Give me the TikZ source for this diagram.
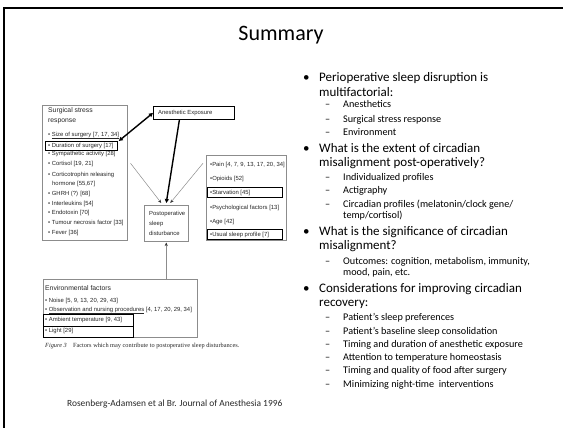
\documentclass[tikz,border=0pt]{standalone}
\usepackage{fontspec}
\setmainfont{Carlito}
\newfontfamily\figfont{Liberation Sans}
\newfontfamily\capfont{Liberation Serif}
\usetikzlibrary{arrows.meta}
\tikzset{
  lone/.style={anchor=base west, inner sep=0pt, font=\fontsize{13}{15}\selectfont},
  ltwo/.style={anchor=base west, inner sep=0pt, font=\fontsize{10.2}{12}\selectfont},
  figtxt/.style={anchor=base west, inner sep=0pt, text=black!85, font=\figfont\fontsize{5.9}{7}\selectfont},
  fighead/.style={anchor=base west, inner sep=0pt, text=black!85, font=\figfont\fontsize{6.8}{8}\selectfont},
  gbox/.style={draw=black!45, line width=0.5pt, anchor=north west, inner sep=0pt},
  hbox/.style={draw=black, line width=0.8pt, anchor=north west, inner sep=0pt},
  thinarr/.style={draw=black!45, line width=0.5pt, -{Stealth[length=3.5pt,width=3pt,color=black!80]}},
  thickarr/.style={draw=black, line width=1.4pt, -{Triangle[length=4pt,width=4pt]}},
}
\begin{document}
\begin{tikzpicture}[x=1pt,y=-1pt]
\useasboundingbox (0,0) rectangle (563,428);
% slide frame
\draw[line width=2pt] (4,428) -- (4,8) -- (563,8);
% title
\node (title) at (281,35) {\fontsize{22}{26}\selectfont Summary};

% ---------- right column ----------
\node[lone] (b1) at (303,82) {\textbullet};
\node[lone] (t1a) at (319,82) {Perioperative sleep disruption is};
\node[lone] (t1b) at (319,96) {multifactorial:};
\node[ltwo] (d1a) at (325,108) {–}; \node[ltwo] (s1a) at (343,108) {Anesthetics};
\node[ltwo] (d1b) at (325,122) {–}; \node[ltwo] (s1b) at (343,122) {Surgical stress response};
\node[ltwo] (d1c) at (325,135.5) {–}; \node[ltwo] (s1c) at (343,135.5) {Environment};

\node[lone] (b2) at (303,153) {\textbullet};
\node[lone] (t2a) at (319,153) {What is the extent of circadian};
\node[lone] (t2b) at (319,167) {misalignment post-operatively?};
\node[ltwo] (d2a) at (325,180) {–}; \node[ltwo] (s2a) at (343,180) {Individualized profiles};
\node[ltwo] (d2b) at (325,193.5) {–}; \node[ltwo] (s2b) at (343,193.5) {Actigraphy};
\node[ltwo] (d2c) at (325,207) {–}; \node[ltwo] (s2c) at (343,207) {Circadian profiles (melatonin/clock gene/};
\node[ltwo] (s2d) at (343,218.5) {temp/cortisol)};

\node[lone] (b3) at (303,235) {\textbullet};
\node[lone] (t3a) at (319,235) {What is the significance of circadian};
\node[lone] (t3b) at (319,249) {misalignment?};
\node[ltwo] (d3a) at (325,264.5) {–}; \node[ltwo] (s3a) at (343,264.5) {Outcomes: cognition, metabolism, immunity,};
\node[ltwo] (s3b) at (343,275.5) {mood, pain, etc.};

\node[lone] (b4) at (303,292) {\textbullet};
\node[lone] (t4a) at (319,292) {Considerations for improving circadian};
\node[lone] (t4b) at (319,306) {recovery:};
\node[ltwo] (d4a) at (325,320) {–}; \node[ltwo] (s4a) at (343,320) {Patient’s sleep preferences};
\node[ltwo] (d4b) at (325,334) {–}; \node[ltwo] (s4b) at (343,334) {Patient’s baseline sleep consolidation};
\node[ltwo] (d4c) at (325,347) {–}; \node[ltwo] (s4c) at (343,347) {Timing and duration of anesthetic exposure};
\node[ltwo] (d4d) at (325,360) {–}; \node[ltwo] (s4d) at (343,360) {Attention to temperature homeostasis};
\node[ltwo] (d4e) at (325,373.5) {–}; \node[ltwo] (s4e) at (343,373.5) {Timing and quality of food after surgery};
\node[ltwo] (d4f) at (325,387.5) {–}; \node[ltwo] (s4f) at (343,387.5) {Minimizing night-time\ \ interventions};

% citation
\node[anchor=base west, inner sep=0pt, font=\fontsize{9.4}{11}\selectfont, text=black!85] (cite) at (67,406) {Rosenberg-Adamsen et al Br. Journal of Anesthesia 1996};

% ---------- figure ----------
% surgical stress box
\node[gbox, minimum width=85pt, minimum height=135pt] (ssr) at (42,105) {};
\node[fighead] (sh1) at (48,112.5) {Surgical stress};
\node[fighead] (sh2) at (48,122.5) {response};
\node[figtxt] (f1) at (48,136) {\textbullet\ \underline{Size of surgery [7, 17, 34]}};
\node[hbox, minimum width=72pt, minimum height=9pt] (dur) at (45,141) {};
\node[figtxt] (f2) at (48,147) {\textbullet\ Duration of surgery [17]};
\node[figtxt] (f3) at (48,155.5) {\textbullet\ Sympathetic activity [28]};
\node[figtxt] (f4) at (48,165) {\textbullet\ Cortisol [19, 21]};
\node[figtxt] (f5) at (48,176) {\textbullet\ Corticotrophin releasing};
\node[figtxt] (f5b) at (52,185) {hormone [55,67]};
\node[figtxt] (f6) at (48,195) {\textbullet\ GHRH (?) [68]};
\node[figtxt] (f7) at (48,205) {\textbullet\ Interleukins [54]};
\node[figtxt] (f8) at (48,214) {\textbullet\ Endotoxin [70]};
\node[figtxt] (f9) at (48,224) {\textbullet\ Tumour necrosis factor [33]};
\node[figtxt] (f10) at (48,234) {\textbullet\ Fever [36]};

% anesthetic exposure box
\node[hbox, minimum width=81pt, minimum height=13pt] (ae) at (153,106) {};
\node[figtxt] (aet) at (158,114.5) {Anesthetic Exposure};

% postoperative box
\node[gbox, minimum width=44pt, minimum height=36pt] (po) at (144,205) {};
\node[figtxt] (po1) at (149,215) {Postoperative};
\node[figtxt] (po2) at (149,225) {sleep};
\node[figtxt] (po3) at (149,235) {disturbance};

% right factors box
\node[gbox, minimum width=80pt, minimum height=85pt] (rb) at (206,155) {};
\node[figtxt] (r1) at (210,166) {\textbullet Pain [4, 7, 9, 13, 17, 20, 34]};
\node[figtxt] (r2) at (210,180) {\textbullet Opioids [52]};
\node[hbox, minimum width=75pt, minimum height=10pt] (stv) at (207,187) {};
\node[figtxt] (r3) at (210,194) {\textbullet Starvation [45]};
\node[figtxt] (r4) at (210,209) {\textbullet Psychological factors [13]};
\node[figtxt] (r5) at (210,223) {\textbullet Age [42]};
\node[hbox, minimum width=75pt, minimum height=10pt] (usp) at (207,229) {};
\node[figtxt] (r6) at (210,236) {\textbullet Usual sleep profile [7]};

% environmental box
\node[gbox, minimum width=154pt, minimum height=58pt] (env) at (43,279) {};
\node[fighead] (eh) at (45,290.5) {Environmental factors};
\node[figtxt] (e1) at (45,302) {\textbullet\ Noise [5, 9, 13, 20, 29, 43]};
\node[figtxt] (e2) at (45,311) {\textbullet\ \underline{Observation and nursing procedures} [4, 17, 20, 29, 34]};
\node[hbox, minimum width=90pt, minimum height=12pt] (amb) at (43,314) {};
\node[figtxt] (e3) at (45,321.5) {\textbullet\ Ambient temperature [9, 43]};
\node[hbox, minimum width=90pt, minimum height=11pt] (lgt) at (43,326) {};
\node[figtxt] (e4) at (45,332) {\textbullet\ Light [29]};

% caption
\node[anchor=base west, inner sep=0pt, text=black!85, font=\capfont\fontsize{6.3}{7.5}\selectfont] (cap) at (45,347) {\textit{Figure 3}\quad Factors which may contribute to postoperative sleep disturbances.};

% connectors
\draw[thickarr, {Triangle[length=4pt,width=4pt]}-{Triangle[length=4pt,width=4pt]}] (ae.west) -- ([xshift=1pt]dur.north east);
\draw[thickarr] ([xshift=-14.5pt]ae.south) -- ([yshift=2pt]po.north);
\draw[thinarr] ([shift={(3pt,9.5pt)}]ssr.east) -- ([shift={(-5pt,2pt)}]po.north);
\draw[thinarr] ([shift={(-3pt,34.5pt)}]rb.west) -- ([shift={(4pt,2pt)}]po.north);
\draw[thinarr] (env.north -| po.south) -- ([yshift=-1pt]po.south);
\end{tikzpicture}
\end{document}
